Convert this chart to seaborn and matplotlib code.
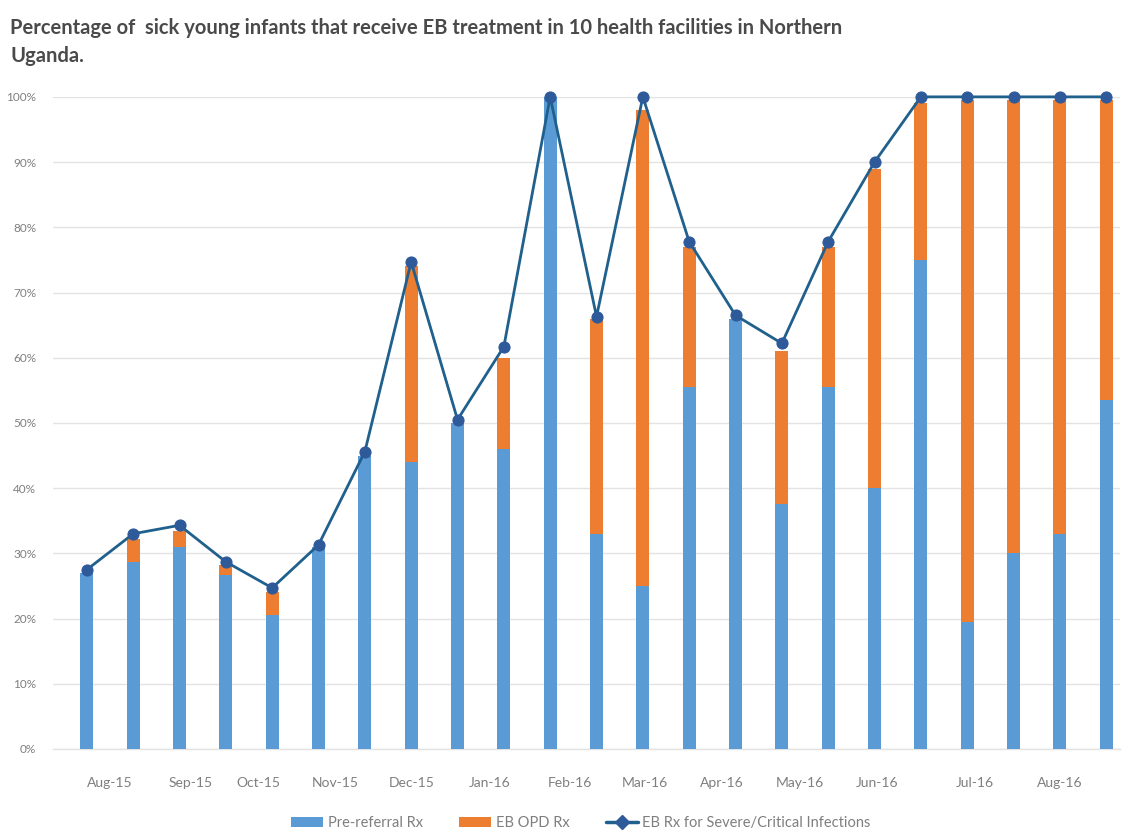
import matplotlib
matplotlib.use("Agg")
import matplotlib.pyplot as plt
import seaborn as sns
import numpy as np
import pandas as pd
from matplotlib.lines import Line2D
from matplotlib.patches import Patch

# ---- data ----
pre_referral = [27, 28.7, 31, 26.7, 20.5, 31, 45, 44, 50, 46, 100, 33, 25, 55.5,
                66, 37.5, 55.5, 40, 75, 19.5, 30, 33, 53.5]
eb_opd = [0, 3.5, 2.5, 1.5, 3.5, 0, 0, 30, 0, 14, 0, 33, 73, 21.5,
          0, 23.5, 21.5, 49, 24, 80, 69.5, 66.5, 46]
eb_severe = [27.5, 33, 34.3, 28.7, 24.7, 31.3, 45.6, 74.7, 50.5, 61.7, 100, 66.3, 100, 77.8,
             66.5, 62.2, 77.8, 90, 100, 100, 100, 100, 100]
month_labels = ["Aug-15", "Sep-15", "Oct-15", "Nov-15", "Dec-15", "Jan-16", "Feb-16",
                "Mar-16", "Apr-16", "May-16", "Jun-16", "Jul-16", "Aug-16"]
month_tick_pos = [0.5, 2.23, 3.7, 5.36, 7.02, 8.7, 10.43, 12.04, 13.71, 15.39, 17.05, 19.16, 20.99]

title = ("Percentage of  sick young infants that receive EB treatment in 10 health facilities in Northern\n"
         "Uganda.")
legend_labels = ["Pre-referral Rx", "EB OPD Rx", "EB Rx for Severe/Critical Infections"]

BLUE = "#5B9BD5"
ORANGE = "#ED7D31"
LINE = "#20608C"
MARK = "#2E5A9A"

df = pd.DataFrame({
    "idx": np.arange(len(pre_referral)),
    "pre": np.array(pre_referral) / 100.0,
    "total": (np.array(pre_referral) + np.array(eb_opd)) / 100.0,
    "severe": np.array(eb_severe) / 100.0,
})

sns.set_style("white")
plt.rcParams["font.family"] = ["Lato", "DejaVu Sans"]

fig = plt.figure(figsize=(11.28, 8.35), dpi=100)
ax = fig.add_axes([0.047, 0.103, 0.946, 0.781])

sns.barplot(data=df, x="idx", y="total", color=ORANGE, width=0.28, saturation=1,
            ax=ax, zorder=2, linewidth=0)
sns.barplot(data=df, x="idx", y="pre", color=BLUE, width=0.28, saturation=1,
            ax=ax, zorder=3, linewidth=0)
sns.lineplot(data=df, x="idx", y="severe", color=LINE, linewidth=2.0, marker="o",
             markersize=8, markerfacecolor=MARK, markeredgecolor=MARK, ax=ax,
             zorder=4, clip_on=False)

ax.set_ylim(0, 1.0)
ax.set_xlim(-0.73, 22.3)
ax.set_yticks(np.arange(0, 1.01, 0.1))
ax.set_yticklabels([f"{int(round(v*100))}%" for v in np.arange(0, 1.01, 0.1)],
                   color="#7f7f7f", fontsize=8.5)
ax.set_xticks(month_tick_pos)
ax.set_xticklabels(month_labels, color="#7f7f7f", fontsize=10)
ax.tick_params(axis="both", length=0)
ax.tick_params(axis="x", pad=20)
ax.tick_params(axis="y", pad=12)
ax.set_xlabel("")
ax.set_ylabel("")
ax.grid(axis="y", color="#E3E3E3", linewidth=1.0, zorder=0)
ax.set_axisbelow(True)
for s in ["top", "right", "left"]:
    ax.spines[s].set_visible(False)
ax.spines["bottom"].set_color("#E3E3E3")
ax.spines["bottom"].set_linewidth(1.0)

fig.text(0.009, 0.978, title, ha="left", va="top", fontsize=14.5, fontweight="bold",
         color="#4a4a4a", linespacing=1.45)

handles = [Patch(facecolor=BLUE, edgecolor="none"),
           Patch(facecolor=ORANGE, edgecolor="none"),
           Line2D([0], [0], color=LINE, linewidth=2.5, marker="D", markersize=7,
                  markerfacecolor=MARK, markeredgecolor=MARK)]
fig.legend(handles, legend_labels, loc="center", bbox_to_anchor=(0.515, 0.014),
           ncol=3, frameon=False, fontsize=10.5, labelcolor="#7f7f7f",
           handlelength=2.2, handleheight=0.7, columnspacing=2.5, handletextpad=0.3)

fig.savefig("out.png", dpi=100, facecolor="white")
